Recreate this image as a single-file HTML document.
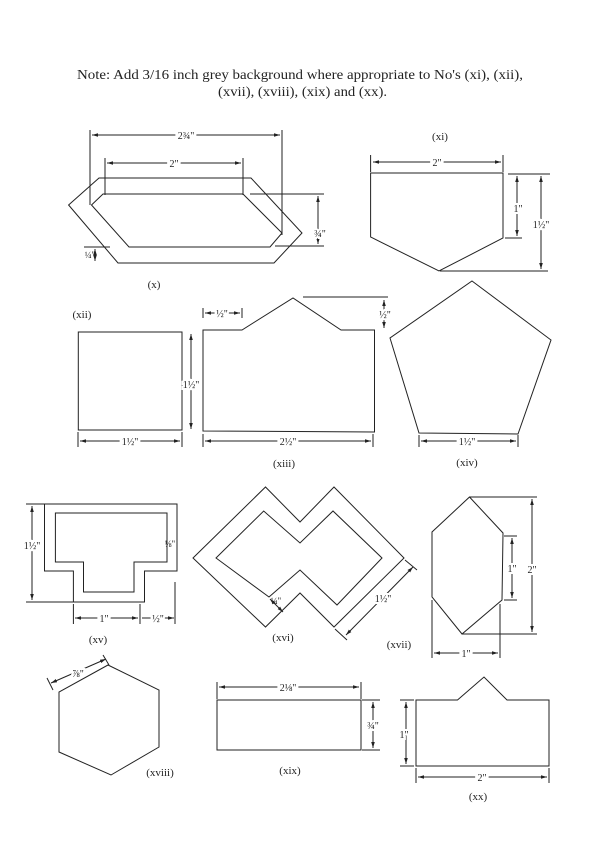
<!DOCTYPE html>
<html><head><meta charset="utf-8"><style>
html,body{margin:0;padding:0;background:#fff;}
svg{display:block;}
text{font-family:"Liberation Serif",serif;fill:#222;}
</style></head><body>
<svg width="600" height="842" viewBox="0 0 600 842" xmlns="http://www.w3.org/2000/svg">
<defs>
<marker id="a" viewBox="0 0 10 10" refX="10" refY="5" markerWidth="6" markerHeight="6" orient="auto-start-reverse"><path d="M0,2 L10,5 L0,8 z" fill="#222"/></marker>
</defs>
<text x="77" y="79" font-size="13.5" textLength="446" lengthAdjust="spacingAndGlyphs">Note:  Add 3/16 inch grey background where appropriate to No's (xi), (xii),</text>
<text x="218" y="96" font-size="13.5" textLength="169" lengthAdjust="spacingAndGlyphs">(xvii), (xviii), (xix) and (xx).</text>

<g fill="none" stroke="#222" stroke-width="1">
<polygon points="68.6,205 99,178 251,178 302,233 274,263 118,263"/>
<polygon points="91.5,205 103,194 243,194 282,233 270,247 129,247"/>
<line x1="90" y1="130" x2="90" y2="205"/><line x1="282" y1="130" x2="282" y2="235"/>
<line x1="92" y1="135" x2="280" y2="135" marker-start="url(#a)" marker-end="url(#a)"/>
<line x1="105" y1="158" x2="105" y2="195"/><line x1="243" y1="158" x2="243" y2="195"/>
<line x1="107" y1="163" x2="241" y2="163" marker-start="url(#a)" marker-end="url(#a)"/>
<line x1="250" y1="194" x2="324" y2="194"/><line x1="275" y1="246" x2="324" y2="246"/>
<line x1="318" y1="196" x2="318" y2="244" marker-start="url(#a)" marker-end="url(#a)"/>
<line x1="84" y1="247" x2="110" y2="247"/>
<line x1="95" y1="249" x2="95" y2="261" marker-start="url(#a)" marker-end="url(#a)"/>
<polygon points="370.6,173 503,173 503,238 439,271 370.6,237"/>
<line x1="370.6" y1="155" x2="370.6" y2="172"/><line x1="503" y1="155" x2="503" y2="172"/>
<line x1="373" y1="162" x2="501" y2="162" marker-start="url(#a)" marker-end="url(#a)"/>
<line x1="508" y1="174" x2="550" y2="174"/><line x1="505" y1="238" x2="522" y2="238"/><line x1="440" y1="271" x2="548" y2="271"/>
<line x1="517" y1="176" x2="517" y2="236" marker-start="url(#a)" marker-end="url(#a)"/>
<line x1="541" y1="176" x2="541" y2="269" marker-start="url(#a)" marker-end="url(#a)"/>
<rect x="78.3" y="332" width="103.7" height="98"/>
<line x1="78" y1="432" x2="78" y2="447"/><line x1="182" y1="432" x2="182" y2="447"/>
<line x1="80" y1="441" x2="180" y2="441" marker-start="url(#a)" marker-end="url(#a)"/>
<line x1="191" y1="334" x2="191" y2="429" marker-start="url(#a)" marker-end="url(#a)"/>
<polygon points="203,330 242,330 293,298 341,330 374.5,330 374.5,432 203,431"/>
<line x1="203" y1="308" x2="203" y2="318"/><line x1="242" y1="308" x2="242" y2="318"/>
<line x1="205" y1="313" x2="240" y2="313" marker-start="url(#a)" marker-end="url(#a)"/>
<line x1="303" y1="297" x2="388" y2="297"/>
<line x1="384" y1="300" x2="384" y2="328" marker-start="url(#a)" marker-end="url(#a)"/>
<line x1="203" y1="434" x2="203" y2="447"/><line x1="373" y1="434" x2="373" y2="447"/>
<line x1="205" y1="441" x2="371" y2="441" marker-start="url(#a)" marker-end="url(#a)"/>
<polygon points="472,281 551,340 518,434 419,433 390,338"/>
<line x1="419" y1="435" x2="419" y2="447"/><line x1="518" y1="435" x2="518" y2="447"/>
<line x1="421" y1="441" x2="516" y2="441" marker-start="url(#a)" marker-end="url(#a)"/>
<polygon points="44.5,504 177,504 177,571 144.5,571 144.5,602 73.4,602 73.4,571 44.5,571"/>
<polygon points="55.4,513 167,513 167,562 134,562 134,592 83.5,592 83.5,562 55.4,562"/>
<line x1="26" y1="504" x2="44" y2="504"/><line x1="26" y1="602" x2="73" y2="602"/>
<line x1="32" y1="506" x2="32" y2="600" marker-start="url(#a)" marker-end="url(#a)"/>
<line x1="73.4" y1="604" x2="73.4" y2="624"/><line x1="140" y1="604" x2="140" y2="624"/><line x1="175" y1="582" x2="175" y2="624"/>
<line x1="75" y1="618" x2="138" y2="618" marker-start="url(#a)" marker-end="url(#a)"/>
<line x1="142" y1="618" x2="174" y2="618" marker-end="url(#a)"/>
<polygon points="193,558 265.5,487 300,522 334,487 404,558 334,627 300,593 265.5,627"/>
<polygon points="216,558 263.7,511 300,543 333,511 382,558 337,605 300,570 269,597"/>
<line x1="405" y1="560" x2="417" y2="570"/><line x1="335" y1="629" x2="347" y2="640"/>
<line x1="413" y1="567" x2="346" y2="635" marker-start="url(#a)" marker-end="url(#a)"/>
<line x1="270" y1="599" x2="283" y2="612" marker-start="url(#a)" marker-end="url(#a)"/>
<polygon points="469.5,497 503,533 502,600 462,634 432,597 432,532"/>
<line x1="470" y1="497" x2="537" y2="497"/><line x1="462" y1="634" x2="537" y2="634"/>
<line x1="532" y1="499" x2="532" y2="632" marker-start="url(#a)" marker-end="url(#a)"/>
<line x1="504" y1="536" x2="517" y2="536"/><line x1="504" y1="600" x2="517" y2="600"/>
<line x1="512" y1="538" x2="512" y2="598" marker-start="url(#a)" marker-end="url(#a)"/>
<line x1="432" y1="600" x2="432" y2="658"/><line x1="500" y1="604" x2="500" y2="658"/>
<line x1="434" y1="653" x2="498" y2="653" marker-start="url(#a)" marker-end="url(#a)"/>
<polygon points="108,665 159,690 159,747 111,775 59,752 59,692"/>
<line x1="47" y1="678" x2="53" y2="690"/><line x1="103" y1="655" x2="109" y2="665"/>
<line x1="51" y1="683" x2="106" y2="659" marker-start="url(#a)" marker-end="url(#a)"/>
<rect x="217" y="700" width="144" height="50"/>
<line x1="217" y1="682" x2="217" y2="699"/><line x1="361" y1="682" x2="361" y2="699"/>
<line x1="219" y1="687" x2="359" y2="687" marker-start="url(#a)" marker-end="url(#a)"/>
<line x1="362" y1="700" x2="380" y2="700"/><line x1="362" y1="750" x2="380" y2="750"/>
<line x1="373" y1="702" x2="373" y2="748" marker-start="url(#a)" marker-end="url(#a)"/>
<polygon points="416,700 457.5,700 484,677 507,700 549,700 549,766 416,766"/>
<line x1="400" y1="700" x2="414" y2="700"/><line x1="400" y1="766" x2="414" y2="766"/>
<line x1="406" y1="702" x2="406" y2="764" marker-start="url(#a)" marker-end="url(#a)"/>
<line x1="416" y1="768" x2="416" y2="783"/><line x1="549" y1="768" x2="549" y2="783"/>
<line x1="418" y1="777" x2="547" y2="777" marker-start="url(#a)" marker-end="url(#a)"/>
</g>

<g font-size="10" text-anchor="middle">
<text x="186" y="139" style="paint-order:stroke" stroke="#fff" stroke-width="6">2¾"</text>
<text x="174" y="167" stroke="#fff" stroke-width="6" style="paint-order:stroke">2"</text>
<text x="320" y="237" stroke="#fff" stroke-width="4" style="paint-order:stroke">¾"</text>
<text x="90" y="258" font-size="9">¼"</text>
<text x="437" y="166" stroke="#fff" stroke-width="6" style="paint-order:stroke">2"</text>
<text x="518" y="212" stroke="#fff" stroke-width="4" style="paint-order:stroke">1"</text>
<text x="541" y="228" stroke="#fff" stroke-width="4" style="paint-order:stroke">1½"</text>
<text x="130" y="445" stroke="#fff" stroke-width="6" style="paint-order:stroke">1½"</text>
<text x="191" y="388" stroke="#fff" stroke-width="4" style="paint-order:stroke">1½"</text>
<text x="222" y="317" stroke="#fff" stroke-width="4" style="paint-order:stroke">½"</text>
<text x="385" y="318" stroke="#fff" stroke-width="4" style="paint-order:stroke">½"</text>
<text x="288" y="445" stroke="#fff" stroke-width="6" style="paint-order:stroke">2½"</text>
<text x="467" y="445" stroke="#fff" stroke-width="6" style="paint-order:stroke">1½"</text>
<text x="32" y="549" stroke="#fff" stroke-width="4" style="paint-order:stroke">1½"</text>
<text x="170" y="547" font-size="9">⅛"</text>
<text x="104" y="622" stroke="#fff" stroke-width="6" style="paint-order:stroke">1"</text>
<text x="158" y="622" stroke="#fff" stroke-width="4" style="paint-order:stroke">½"</text>
<text x="276" y="604" font-size="9">¼"</text>
<text x="383" y="602" stroke="#fff" stroke-width="4" style="paint-order:stroke">1½"</text>
<text x="512" y="572" stroke="#fff" stroke-width="4" style="paint-order:stroke">1"</text>
<text x="532" y="573" stroke="#fff" stroke-width="4" style="paint-order:stroke">2"</text>
<text x="466" y="657" stroke="#fff" stroke-width="6" style="paint-order:stroke">1"</text>
<text x="78" y="677" stroke="#fff" stroke-width="4" style="paint-order:stroke">⅞"</text>
<text x="288" y="691" stroke="#fff" stroke-width="6" style="paint-order:stroke">2⅛"</text>
<text x="373" y="729" stroke="#fff" stroke-width="4" style="paint-order:stroke">¾"</text>
<text x="404" y="738" stroke="#fff" stroke-width="4" style="paint-order:stroke">1"</text>
<text x="482" y="781" stroke="#fff" stroke-width="6" style="paint-order:stroke">2"</text>
</g>

<g font-size="11" text-anchor="middle">
<text x="440" y="140">(xi)</text>
<text x="154" y="288">(x)</text>
<text x="82" y="318">(xii)</text>
<text x="284" y="467">(xiii)</text>
<text x="467" y="466">(xiv)</text>
<text x="98" y="643">(xv)</text>
<text x="283" y="641">(xvi)</text>
<text x="399" y="648">(xvii)</text>
<text x="160" y="776">(xviii)</text>
<text x="290" y="774">(xix)</text>
<text x="478" y="800">(xx)</text>
</g>
</svg>
</body></html>
